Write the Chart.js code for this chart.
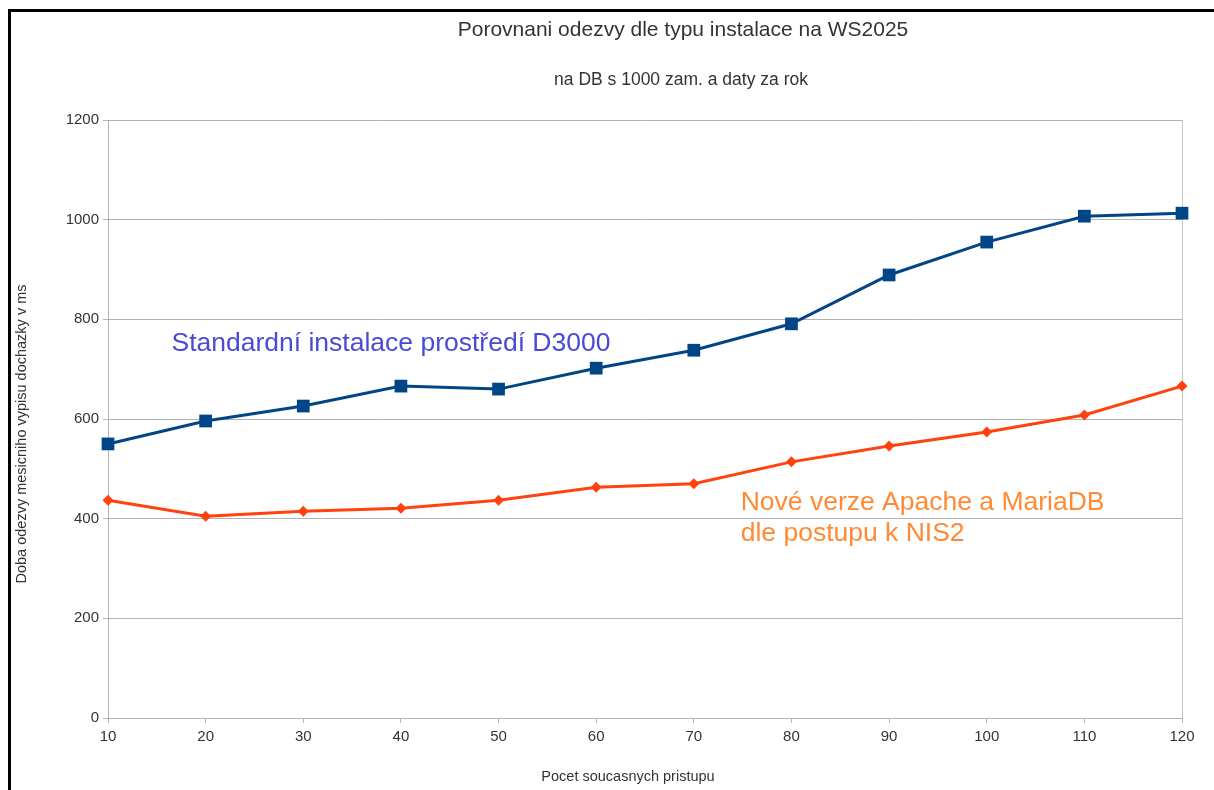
<!DOCTYPE html>
<html>
<head>
<meta charset="utf-8">
<script src="https://cdn.jsdelivr.net/npm/chart.js@4.4.0/dist/chart.umd.min.js"></script>
<style>
  html, body { margin: 0; padding: 0; background: #ffffff; }
  #wrap { position: relative; width: 1214px; height: 790px; }
</style>
</head>
<body>
<div id="wrap"><canvas id="c" width="1214" height="790"></canvas></div>
<script>
const categories = [10, 20, 30, 40, 50, 60, 70, 80, 90, 100, 110, 120];
const standardValues = [550, 596, 626, 666, 660, 702, 738, 791, 889, 955, 1007, 1013];
const nis2Values = [437, 405, 415, 421, 437, 463, 470, 514, 546, 574, 608, 666];
const yTicks = [0, 200, 400, 600, 800, 1000, 1200];

const titleText = 'Porovnani odezvy dle typu instalace na WS2025';
const subtitleText = 'na DB s 1000 zam. a daty za rok';
const xTitle = 'Pocet soucasnych pristupu';
const yTitle = 'Doba odezvy mesicniho vypisu dochazky v ms';
const standardLabel = 'Standardní instalace prostředí D3000';
const nis2Label = ['Nové verze Apache a MariaDB', 'dle postupu k NIS2'];

const FONT = '"Liberation Sans", Arial, sans-serif';

const decor = {
  id: 'decor',
  beforeDraw(chart) {
    const c = chart.ctx;
    c.save();
    c.fillStyle = '#ffffff';
    c.fillRect(0, 0, chart.width, chart.height);
    c.restore();
  },
  afterDraw(chart) {
    const c = chart.ctx;
    const xs = chart.scales.x, ys = chart.scales.y;
    c.save();
    c.fillStyle = '#000000';
    c.fillRect(8, 9, chart.width - 8, 3);
    c.fillRect(8, 9, 3, chart.height - 9);
    c.fillStyle = '#333333';
    c.textAlign = 'center';
    c.textBaseline = 'middle';
    c.font = '21px ' + FONT;
    c.fillText(titleText, 683, 30);
    c.font = '17.5px ' + FONT;
    c.fillText(subtitleText, 681, 80);
    c.font = '14.5px ' + FONT;
    c.fillText(xTitle, 628, 777);
    c.translate(22, 434);
    c.rotate(-Math.PI / 2);
    c.fillText(yTitle, 0, 0);
    c.restore();
    c.save();
    c.font = '26.5px ' + FONT;
    c.textAlign = 'left';
    c.textBaseline = 'middle';
    c.fillStyle = '#4a4ad6';
    c.fillText(standardLabel, xs.getPixelForValue(16.5), ys.getPixelForValue(752));
    c.fillStyle = '#ff8a33';
    c.fillText(nis2Label[0], xs.getPixelForValue(74.8), ys.getPixelForValue(432));
    c.fillText(nis2Label[1], xs.getPixelForValue(74.8), ys.getPixelForValue(370));
    c.restore();
  }
};

const toPoints = (vals) => vals.map((v, i) => ({ x: categories[i], y: v }));

new Chart(document.getElementById('c'), {
  type: 'line',
  data: {
    datasets: [
      {
        label: standardLabel,
        data: toPoints(standardValues),
        borderColor: '#004586',
        backgroundColor: '#004586',
        borderWidth: 3,
        pointStyle: 'rect',
        pointRadius: 9,
        pointHoverRadius: 9,
        pointBorderWidth: 0,
        tension: 0,
        clip: false
      },
      {
        label: nis2Label.join(' '),
        data: toPoints(nis2Values),
        borderColor: '#ff420e',
        backgroundColor: '#ff420e',
        borderWidth: 3,
        pointStyle: 'rectRot',
        pointRadius: 5.5,
        pointHoverRadius: 5.5,
        pointBorderWidth: 0,
        tension: 0,
        clip: false
      }
    ]
  },
  options: {
    responsive: false,
    animation: false,
    events: [],
    layout: { padding: { left: 0, right: 32, top: 120, bottom: 0 } },
    plugins: {
      legend: { display: false },
      title: { display: false },
      tooltip: { enabled: false }
    },
    scales: {
      x: {
        type: 'linear',
        min: categories[0],
        max: categories[categories.length - 1],
        afterFit(scale) { scale.height = 72; },
        afterBuildTicks(scale) { scale.ticks = categories.map(v => ({ value: v })); },
        grid: {
          color: (ctx) => ctx.index === categories.length - 1 ? '#c8c8c8' : 'rgba(0,0,0,0)',
          tickColor: '#b3b3b3',
          tickLength: 5,
          lineWidth: 1
        },
        border: { color: '#b3b3b3', width: 1 },
        ticks: {
          color: '#333333',
          font: { family: FONT, size: 15 },
          padding: 5,
          maxRotation: 0,
          autoSkip: false,
          callback: (v) => String(v)
        }
      },
      y: {
        min: 0,
        max: 1200,
        afterFit(scale) { scale.width = 108; },
        afterBuildTicks(scale) { scale.ticks = yTicks.map(v => ({ value: v })); },
        grid: {
          color: '#b3b3b3',
          tickColor: '#b3b3b3',
          tickLength: 5,
          lineWidth: 1
        },
        border: { color: '#b3b3b3', width: 1 },
        ticks: {
          color: '#333333',
          font: { family: FONT, size: 15 },
          padding: 4,
          callback: (v) => String(v)
        }
      }
    }
  },
  plugins: [decor]
});
</script>
</body>
</html>
